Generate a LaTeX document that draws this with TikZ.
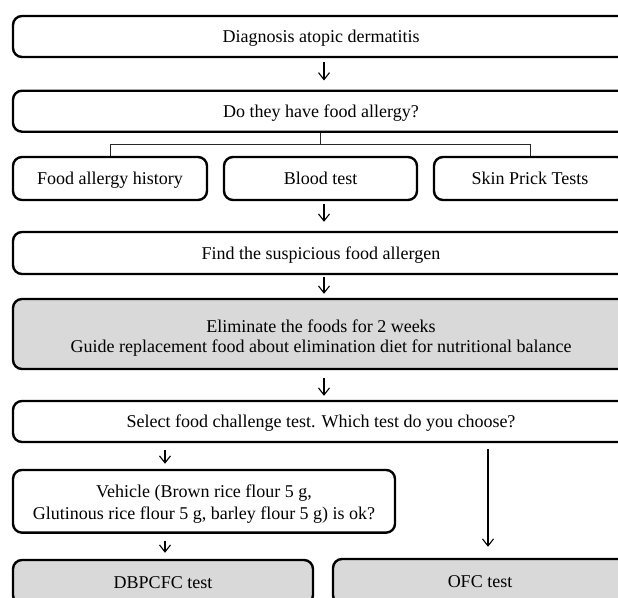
\documentclass[tikz,border=0pt]{standalone}
\usepackage{fontspec}
\setmainfont{Liberation Serif}
\usetikzlibrary{arrows.meta}
\definecolor{boxgray}{HTML}{D9D9D9}
\begin{document}
\begin{tikzpicture}[x=1pt,y=-1pt,
  box/.style={draw, line width=2.4pt, rounded corners=9pt, fill=white, inner sep=0pt,
    font=\fontsize{18}{20}\selectfont, align=center},
  one/.style={text height=12.5pt, text depth=0pt},
  graybox/.style={box, fill=boxgray},
  arr/.style={line width=1.1pt, -{Straight Barb[length=7pt,width=11pt,line width=1.1pt]}},
  link/.style={line width=0.9pt, draw=black!85}]
\useasboundingbox (0,0) rectangle (618,597);
\clip (0,0) rectangle (618,597);

\node[box, one, minimum width=616pt, minimum height=41pt] (diag) at (321,36.5) {Diagnosis atopic dermatitis};
\node[box, one, minimum width=616pt, minimum height=41pt] (q) at (321,111.2) {Do they have food allergy?};
\node[box, one, minimum width=194pt, minimum height=43pt] (hist) at (110,178.5) {Food allergy history};
\node[box, one, minimum width=193pt, minimum height=43pt] (blood) at (320.5,178.5) {Blood test};
\node[box, one, minimum width=192pt, minimum height=43pt] (skin) at (530,178.5) {Skin Prick Tests};
\node[box, one, minimum width=616pt, minimum height=42pt] (find) at (321,253) {Find the suspicious food allergen};
\node[graybox, minimum width=616pt, minimum height=70pt] (elim) at (321,334)
  {\rule{0pt}{21pt}Eliminate the foods for 2 weeks\\[-0.5pt]Guide replacement food about elimination diet for nutritional balance};
\node[box, one, minimum width=616pt, minimum height=41pt] (sel) at (321,421.5) {Select food challenge test. Which test do you choose?};
\node[box, minimum width=382pt, minimum height=62.7pt, font=\fontsize{18}{22}\selectfont] (veh) at (204,501.3)
  {\rule{0pt}{19pt}Vehicle (Brown rice flour 5 g,\\Glutinous rice flour 5 g, barley flour 5 g) is ok?};
\node[graybox, one, minimum width=300pt, minimum height=44pt] (dbp) at (163,582) {DBPCFC test};
\node[graybox, one, minimum width=294pt, minimum height=45pt] (ofc) at (480,581.5) {OFC test};

\coordinate (ax) at (324,0);
\coordinate (lx) at (165,0);
\coordinate (rx) at (488,0);
\coordinate (br) at (320.7,144.3);

\draw[arr, shorten <=4pt, shorten >=9pt] (diag.south -| ax) -- (q.north -| ax);
\draw[link] (q.south -| br) -- (br);
\draw[link] (hist.north) |- (br) -| (skin.north);
\draw[arr, shorten <=3pt, shorten >=9pt] (blood.south -| ax) -- (find.north -| ax);
\draw[arr, shorten <=1.5pt, shorten >=4pt] (find.south -| ax) -- (elim.north -| ax);
\draw[arr, shorten <=8pt, shorten >=4pt] (elim.south -| ax) -- (sel.north -| ax);
\draw[arr, shorten <=7pt, shorten >=5pt] (sel.south -| lx) -- (veh.north -| lx);
\draw[arr, shorten <=7pt, shorten >=6pt] (veh.south -| lx) -- (dbp.north -| lx);
\draw[arr, shorten <=6pt, shorten >=11pt] (sel.south -| rx) -- (ofc.north -| rx);
\end{tikzpicture}
\end{document}
